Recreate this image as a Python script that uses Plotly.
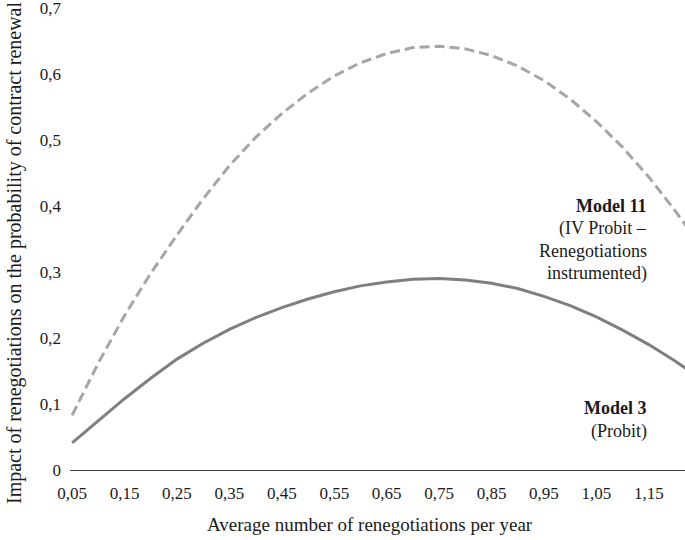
import plotly.graph_objects as go

renegotiations = [0.05, 0.10, 0.15, 0.20, 0.25, 0.30, 0.35, 0.40, 0.45, 0.50, 0.55, 0.60,
                  0.65, 0.70, 0.75, 0.80, 0.85, 0.90, 0.95, 1.00, 1.05, 1.10, 1.15, 1.20, 1.25]
model3_probit = [0.041, 0.075, 0.108, 0.139, 0.168, 0.192, 0.213, 0.231, 0.246, 0.259, 0.270, 0.279,
                 0.285, 0.289, 0.290, 0.288, 0.283, 0.275, 0.263, 0.249, 0.232, 0.212, 0.190, 0.165, 0.138]
model11_ivprobit = [0.083, 0.162, 0.234, 0.298, 0.356, 0.411, 0.461, 0.504, 0.540, 0.571, 0.597, 0.617,
                    0.631, 0.640, 0.642, 0.638, 0.628, 0.612, 0.590, 0.562, 0.528, 0.489, 0.444, 0.393, 0.338]

x_tick_vals = [0.05, 0.15, 0.25, 0.35, 0.45, 0.55, 0.65, 0.75, 0.85, 0.95, 1.05, 1.15]
x_tick_text = ["0,05", "0,15", "0,25", "0,35", "0,45", "0,55", "0,65", "0,75", "0,85", "0,95", "1,05", "1,15"]
y_tick_vals = [0, 0.1, 0.2, 0.3, 0.4, 0.5, 0.6, 0.7]
y_tick_text = ["0", "0,1", "0,2", "0,3", "0,4", "0,5", "0,6", "0,7"]

FONT = "Liberation Serif, serif"
TXT = "#1a1a1a"

fig = go.Figure()
fig.add_trace(go.Scatter(x=renegotiations, y=model11_ivprobit, mode="lines",
                         line=dict(color="#a6a6a6", width=3, dash="10px,5px"),
                         name="Model 11", showlegend=False, hoverinfo="skip"))
fig.add_trace(go.Scatter(x=renegotiations, y=model3_probit, mode="lines",
                         line=dict(color="#7f7f7f", width=3),
                         name="Model 3", showlegend=False, hoverinfo="skip"))

fig.update_layout(
    width=685, height=540,
    margin=dict(l=70, r=0, t=8, b=70, autoexpand=False),
    paper_bgcolor="white", plot_bgcolor="white",
    font=dict(family=FONT, size=17, color=TXT),
    xaxis=dict(range=[0.046, 1.219], tickvals=x_tick_vals, ticktext=x_tick_text,
               showgrid=False, zeroline=False, showline=True, linecolor="#404040", linewidth=1,
               ticks="", ticklabelstandoff=8, automargin=False, ticklabeloverflow="allow",
               tickfont=dict(family=FONT, size=17, color=TXT)),
    yaxis=dict(range=[0, 0.7], tickvals=y_tick_vals, ticktext=y_tick_text,
               showgrid=False, zeroline=False, showline=False, ticks="",
               ticklabelstandoff=8, automargin=False, ticklabeloverflow="allow",
               tickfont=dict(family=FONT, size=17, color=TXT)),
)

# axis titles
fig.add_annotation(xref="paper", yref="paper", x=(370 - 70) / 615, y=(470 - 524) / 462,
                   xanchor="center", yanchor="middle", showarrow=False,
                   text="Average number of renegotiations per year",
                   font=dict(family=FONT, size=19, color=TXT))
fig.add_annotation(xref="paper", yref="paper", x=(14 - 70) / 615, y=(470 - 253) / 462,
                   xanchor="center", yanchor="middle", showarrow=False, textangle=-90,
                   text="Impact of renegotiations on the probability of contract renewal",
                   font=dict(family=FONT, size=20, color=TXT))

def label(text, ypix, bold=False):
    fig.add_annotation(xref="paper", yref="paper", x=(649 - 70) / 615, y=(470 - ypix) / 462,
                       xanchor="right", yanchor="middle", showarrow=False,
                       text=f"<b>{text}</b>" if bold else text,
                       font=dict(family=FONT, size=18, color=TXT))

label("Model 11", 206, bold=True)
label("(IV Probit –", 229)
label("Renegotiations", 251)
label("instrumented)", 273)
label("Model 3", 408, bold=True)
label("(Probit)", 431)

fig.write_html("out.html", config={"displayModeBar": False},
               post_script="document.body.style.margin='0px';document.body.style.overflow='hidden';")
